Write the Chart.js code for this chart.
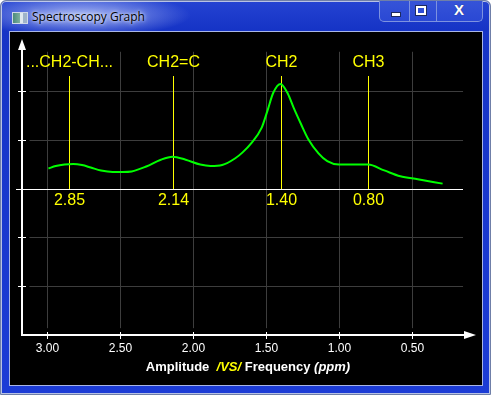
<!DOCTYPE html>
<html>
<head>
<meta charset="utf-8">
<script src="https://cdn.jsdelivr.net/npm/chart.js@4"></script>
<style>
  body { margin: 0; background: #fff; }
  #win {
    position: absolute; left: 0; top: 0; width: 489px; height: 393px;
    border: 1px solid #6f7fa8; border-radius: 6px 6px 0 0;
    background: linear-gradient(to bottom, #2443d2 0px, #1634c6 28px, #1c3cd6 100%);
    box-shadow: inset 0 0 0 1px #b8c2e4;
    overflow: hidden;
  }
  #glow {
    position: absolute; left: 0; top: 0; width: 220px; height: 34px;
    background: radial-gradient(ellipse 110px 22px at 80px 14px, rgba(210,220,255,0.75), rgba(210,220,255,0) 100%);
  }
  #icon {
    position: absolute; left: 11px; top: 11px; width: 14px; height: 10px;
    background: linear-gradient(to right, #4b8b7a 0, #7fb0a0 50%, #dfe8ef 50%, #dfe8ef 70%, #9fb3c9 70%);
    border: 1px solid #d0d8e8;
  }
  #title {
    position: absolute; left: 31px; top: 7px;
    font: 12px "Open Sans", "Noto Sans", sans-serif; color: #000;
    text-shadow: 0 0 6px #e8eeff, 0 0 3px #e8eeff;
  }
  #btns {
    position: absolute; left: 378px; top: -1px; width: 102px; height: 21px;
    border: 1px solid #7d92e0; border-top: none; border-radius: 0 0 5px 5px;
    background: linear-gradient(to bottom, #3654d8, #2a48d4);
  }
  .sep { position: absolute; top: 0; width: 1px; height: 21px; background: #7d92e0; }
  #min { position: absolute; left: 11px; top: 12px; width: 8px; height: 3px; background: #fff; border: 1px solid #1e2a60; }
  #max { position: absolute; left: 36px; top: 6px; width: 6px; height: 5px; border: 2px solid #fff; outline: 1px solid #1e2a60; }
  #cls { position: absolute; left: 74px; top: 1px; font: bold 15px "Liberation Sans", Arial, sans-serif; color: #fff; text-shadow: 0 0 1px #1e2a60; }
  #client {
    position: absolute; left: 8px; top: 30px; width: 472px; height: 353px;
    border: 1px solid #a9b6e6; background: #000;
  }
  canvas { display: block; }
</style>
</head>
<body>
<div id="win">
  <div id="glow"></div>
  <div id="icon"></div>
  <div id="title">Spectroscopy Graph</div>
  <div id="btns">
    <div class="sep" style="left:29px"></div>
    <div class="sep" style="left:56px"></div>
    <div id="min"></div>
    <div id="max"></div>
    <div id="cls">X</div>
  </div>
  <div id="client"><canvas id="spectrum" width="472" height="353"></canvas></div>
</div>
<script>
// spectrum
const ppm = [2.99, 2.94, 2.88, 2.82, 2.76, 2.70, 2.63, 2.55, 2.48, 2.42, 2.32, 2.22, 2.14, 2.05, 1.95, 1.88,
  1.80, 1.71, 1.66, 1.60, 1.53, 1.49, 1.45, 1.40, 1.35, 1.31, 1.26, 1.21, 1.14, 1.08, 1.00, 0.90, 0.80,
  0.69, 0.58, 0.46, 0.29];
const amplitude = [0.41, 0.46, 0.49, 0.50, 0.48, 0.43, 0.37, 0.34, 0.34, 0.35, 0.45, 0.59, 0.65, 0.59, 0.49, 0.46,
  0.48, 0.62, 0.74, 0.93, 1.24, 1.59, 1.96, 2.14, 1.94, 1.65, 1.32, 1.01, 0.72, 0.56, 0.49, 0.49, 0.49,
  0.37, 0.25, 0.19, 0.10];

// peak markers
const peakPpm = [2.85, 2.14, 1.40, 0.80];
const peakNames = ["...CH2-CH...", "CH2=C", "CH2", "CH3"];
const peakValues = ["2.85", "2.14", "1.40", "0.80"];

// axes
const xTicks = [3.0, 2.5, 2.0, 1.5, 1.0, 0.5];
const xTickLabels = ["3.00", "2.50", "2.00", "1.50", "1.00", "0.50"];
const yTicks = [2, 1, -1, -2];

const font = '"Liberation Sans", Arial, sans-serif';

const spectroPlugin = {
  id: "spectro",
  beforeDatasetsDraw(chart) {
    const { ctx, scales: { x, y } } = chart;
    ctx.save();
    // grid
    ctx.strokeStyle = "#3d3d3d";
    ctx.lineWidth = 1;
    yTicks.forEach((v) => {
      const py = Math.round(y.getPixelForValue(v)) + 0.5;
      ctx.beginPath();
      ctx.moveTo(x.getPixelForValue(3.12), py);
      ctx.lineTo(x.getPixelForValue(0.15), py);
      ctx.stroke();
    });
    xTicks.forEach((v) => {
      const px = Math.round(x.getPixelForValue(v)) + 0.5;
      ctx.beginPath();
      ctx.moveTo(px, y.getPixelForValue(2.8));
      ctx.lineTo(px, y.getPixelForValue(-2.86));
      ctx.stroke();
    });
    // zero line
    const y0 = Math.round(y.getPixelForValue(0));
    ctx.fillStyle = "#ffffff";
    const zx = Math.round(x.getPixelForValue(3.17)) - 6;
    ctx.fillRect(zx, y0, Math.round(x.getPixelForValue(0.15)) - zx, 1);
    // peak markers
    ctx.fillStyle = "#ffff00";
    ctx.font = "16px " + font;
    ctx.textAlign = "center";
    ctx.textBaseline = "middle";
    peakPpm.forEach((p, i) => {
      const px = Math.round(x.getPixelForValue(p));
      const top = Math.round(y.getPixelForValue(2.3));
      ctx.fillRect(px, top, 1, y0 - top);
      ctx.fillText(peakNames[i], px + 0.5, y.getPixelForValue(2.57));
      ctx.fillText(peakValues[i], px + 0.5, y.getPixelForValue(-0.24));
    });
    ctx.restore();
  },
  afterDatasetsDraw(chart) {
    const { ctx, scales: { x, y }, chartArea: a } = chart;
    ctx.save();
    ctx.strokeStyle = "#ffffff";
    ctx.fillStyle = "#ffffff";
    ctx.lineWidth = 2;
    const ax = a.left, ay = a.bottom;
    // y axis with arrow
    ctx.beginPath();
    ctx.moveTo(ax, ay + 1);
    ctx.lineTo(ax, a.top + 4);
    ctx.stroke();
    ctx.beginPath();
    ctx.moveTo(ax, a.top - 3);
    ctx.lineTo(ax - 4, a.top + 8);
    ctx.lineTo(ax + 4, a.top + 8);
    ctx.closePath();
    ctx.fill();
    // x axis with arrow
    ctx.beginPath();
    ctx.moveTo(ax - 1, ay);
    ctx.lineTo(a.right - 6, ay);
    ctx.stroke();
    ctx.beginPath();
    ctx.moveTo(a.right + 2, ay);
    ctx.lineTo(a.right - 10, ay - 4);
    ctx.lineTo(a.right - 10, ay + 4);
    ctx.closePath();
    ctx.fill();
    // tick marks
    ctx.lineWidth = 1;
    yTicks.forEach((v) => {
      const py = Math.round(y.getPixelForValue(v)) + 0.5;
      ctx.beginPath();
      ctx.moveTo(ax - 4, py);
      ctx.lineTo(ax + 4, py);
      ctx.stroke();
    });
    ctx.font = "12px " + font;
    ctx.textAlign = "center";
    ctx.textBaseline = "middle";
    xTicks.forEach((v, i) => {
      const px = Math.round(x.getPixelForValue(v)) + 0.5;
      ctx.beginPath();
      ctx.moveTo(px, ay - 3);
      ctx.lineTo(px, ay + 4);
      ctx.stroke();
      ctx.fillText(xTickLabels[i], px, ay + 14);
    });
    // axis title
    const parts = [
      ["Amplitude  ", "bold 13px ", "#ffffff"],
      ["/VS/", "italic bold 13px ", "#ffff00"],
      [" Frequency ", "bold 13px ", "#ffffff"],
      ["(ppm)", "italic bold 13px ", "#ffffff"],
    ];
    let total = 0;
    parts.forEach((p) => { ctx.font = p[1] + font; total += ctx.measureText(p[0]).width; });
    let tx = (a.left + a.right) / 2 - total / 2;
    ctx.textAlign = "left";
    parts.forEach((p) => {
      ctx.font = p[1] + font;
      ctx.fillStyle = p[2];
      ctx.fillText(p[0], tx, ay + 32);
      tx += ctx.measureText(p[0]).width;
    });
    ctx.restore();
  },
};

new Chart(document.getElementById("spectrum"), {
  type: "line",
  data: {
    datasets: [{
      data: ppm.map((p, i) => ({ x: p, y: amplitude[i] })),
      borderColor: "#00ff00",
      borderWidth: 2,
      pointRadius: 0,
      cubicInterpolationMode: "monotone",
      fill: false,
    }],
  },
  options: {
    responsive: false,
    animation: false,
    layout: { padding: { left: 12, right: 8, top: 10, bottom: 50 } },
    plugins: { legend: { display: false }, tooltip: { enabled: false } },
    scales: {
      x: { type: "linear", reverse: true, min: 0.075, max: 3.171, display: false },
      y: { type: "linear", min: -3, max: 3, display: false },
    },
  },
  plugins: [spectroPlugin],
});
</script>
</body>
</html>
